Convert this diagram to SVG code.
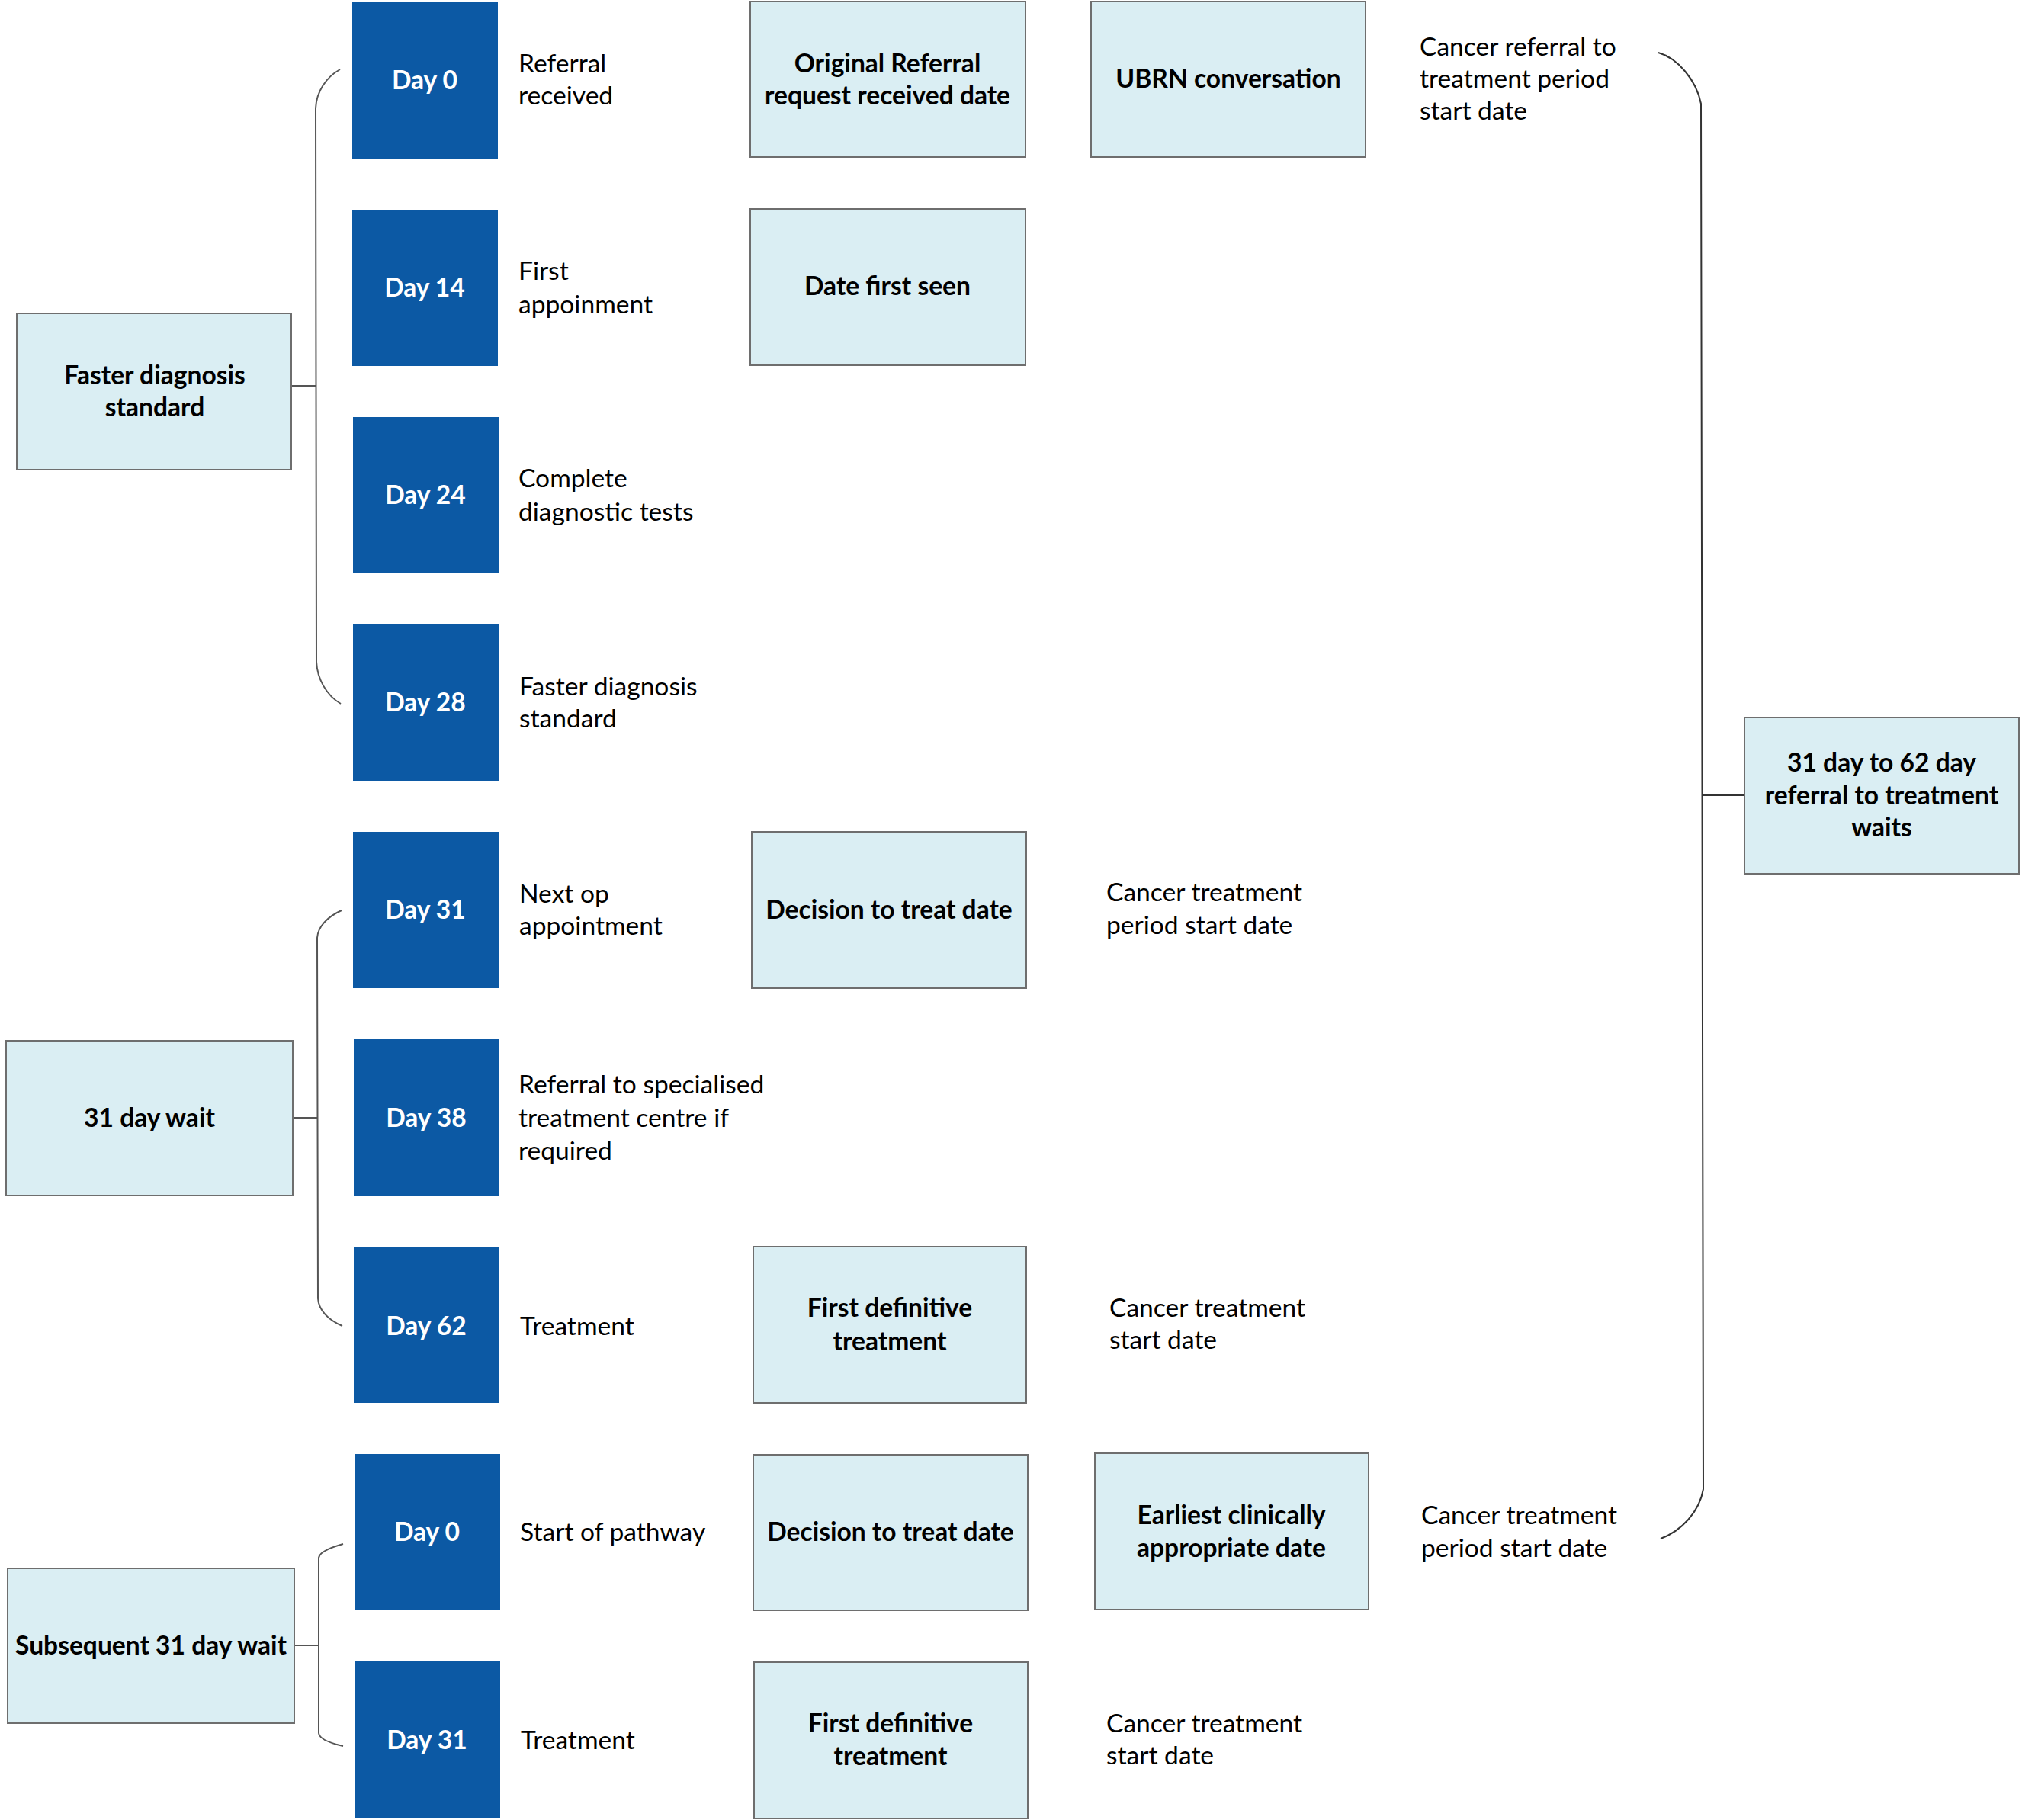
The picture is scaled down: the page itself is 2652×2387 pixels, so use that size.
<svg xmlns="http://www.w3.org/2000/svg" width="2652" height="2387" viewBox="0 0 2652 2387">
<style>
.lb{fill:#DAEEF3;stroke:#6E6E6E;stroke-width:2}
.db{fill:#0C59A4}
.t{font-family:Lato,"Liberation Sans",sans-serif;font-size:33.6px;fill:#000}
.b{font-family:Lato,"Liberation Sans",sans-serif;font-size:33.6px;font-weight:bold;fill:#000;text-anchor:middle}
.w{font-family:Lato,"Liberation Sans",sans-serif;font-size:33.6px;font-weight:bold;fill:#fff;text-anchor:middle}
.c{fill:none;stroke:#555;stroke-width:2}
.r{fill:none;stroke:#333;stroke-width:2}
</style>
<rect width="2652" height="2387" fill="#fff"/>
<g id="connectors">
<path class="c" d="M446 91 C428 101 415 120 414 142 L415 868 C416 890 428 912 447 923"/>
<path class="c" d="M382 506 H414"/>
<path class="c" d="M448 1194 C430 1202 417 1215 416 1230 L417 1703 C418 1718 430 1731 449 1739"/>
<path class="c" d="M384 1466 H416"/>
<path class="c" d="M450 2025 C432 2030 419 2036 418 2043 L418 2273 C419 2281 432 2286 450 2290"/>
<path class="c" d="M386 2158 H418"/>
<path class="r" d="M2175 69 C2200 76 2225 105 2231 136 L2234 1953 C2229 1983 2205 2008 2178 2018"/>
<path class="r" d="M2233 1043 H2288"/>
</g>
<g id="n-fds"><rect class="lb" x="22" y="411" width="360" height="205"/><text class="b" x="203" y="504">Faster diagnosis</text><text class="b" x="203" y="546">standard</text></g>
<g id="n-31wait"><rect class="lb" x="8" y="1365" width="376" height="203"/><text class="b" x="196" y="1478">31 day wait</text></g>
<g id="n-sub31"><rect class="lb" x="10" y="2057" width="376" height="203"/><text class="b" x="198" y="2170">Subsequent 31 day wait</text></g>

<g id="d0"><rect class="db" x="462" y="3" width="191" height="205"/><text class="w" x="557" y="117">Day 0</text></g>
<g id="d14"><rect class="db" x="462" y="275" width="191" height="205"/><text class="w" x="557" y="389">Day 14</text></g>
<g id="d24"><rect class="db" x="463" y="547" width="191" height="205"/><text class="w" x="558" y="661">Day 24</text></g>
<g id="d28"><rect class="db" x="463" y="819" width="191" height="205"/><text class="w" x="558" y="933">Day 28</text></g>
<g id="d31"><rect class="db" x="463" y="1091" width="191" height="205"/><text class="w" x="558" y="1205">Day 31</text></g>
<g id="d38"><rect class="db" x="464" y="1363" width="191" height="205"/><text class="w" x="559" y="1478">Day 38</text></g>
<g id="d62"><rect class="db" x="464" y="1635" width="191" height="205"/><text class="w" x="559" y="1751">Day 62</text></g>
<g id="d0b"><rect class="db" x="465" y="1907" width="191" height="205"/><text class="w" x="560" y="2021">Day 0</text></g>
<g id="d31b"><rect class="db" x="465" y="2179" width="191" height="206"/><text class="w" x="560" y="2294">Day 31</text></g>

<g id="l-ref"><text class="t" x="680" y="95">Referral</text><text class="t" x="680" y="137">received</text></g>
<g id="l-first"><text class="t" x="680" y="367">First</text><text class="t" x="680" y="411">appoinment</text></g>
<g id="l-complete"><text class="t" x="680" y="639">Complete</text><text class="t" x="680" y="683">diagnostic tests</text></g>
<g id="l-fds"><text class="t" x="681" y="912">Faster diagnosis</text><text class="t" x="681" y="954">standard</text></g>
<g id="l-nextop"><text class="t" x="681" y="1184">Next op</text><text class="t" x="681" y="1226">appointment</text></g>
<g id="l-refspec"><text class="t" x="680" y="1434">Referral to specialised</text><text class="t" x="680" y="1478">treatment centre if</text><text class="t" x="680" y="1521">required</text></g>
<g id="l-treat1"><text class="t" x="682" y="1751">Treatment</text></g>
<g id="l-start"><text class="t" x="682" y="2021">Start of pathway</text></g>
<g id="l-treat2"><text class="t" x="683" y="2294">Treatment</text></g>

<g id="n-orig"><rect class="lb" x="984" y="2" width="361" height="204"/><text class="b" x="1164" y="95">Original Referral</text><text class="b" x="1164" y="137">request received date</text></g>
<g id="n-ubrn"><rect class="lb" x="1431" y="2" width="360" height="204"/><text class="b" x="1611" y="115">UBRN conversation</text></g>
<g id="n-dfs"><rect class="lb" x="984" y="274" width="361" height="205"/><text class="b" x="1164" y="387">Date first seen</text></g>
<g id="n-dtt1"><rect class="lb" x="986" y="1091" width="360" height="205"/><text class="b" x="1166" y="1205">Decision to treat date</text></g>
<g id="n-fdt1"><rect class="lb" x="988" y="1635" width="358" height="205"/><text class="b" x="1167" y="1727">First definitive</text><text class="b" x="1167" y="1771">treatment</text></g>
<g id="n-dtt2"><rect class="lb" x="988" y="1908" width="360" height="204"/><text class="b" x="1168" y="2021">Decision to treat date</text></g>
<g id="n-eca"><rect class="lb" x="1436" y="1906" width="359" height="205"/><text class="b" x="1615" y="1999">Earliest clinically</text><text class="b" x="1615" y="2042">appropriate date</text></g>
<g id="n-fdt2"><rect class="lb" x="989" y="2180" width="359" height="205"/><text class="b" x="1168" y="2272">First definitive</text><text class="b" x="1168" y="2315">treatment</text></g>
<g id="n-3162"><rect class="lb" x="2288" y="941" width="360" height="205"/><text class="b" x="2468" y="1012">31 day to 62 day</text><text class="b" x="2468" y="1055">referral to treatment</text><text class="b" x="2468" y="1097">waits</text></g>

<g id="l-crt"><text class="t" x="1862" y="73">Cancer referral to</text><text class="t" x="1862" y="115">treatment period</text><text class="t" x="1862" y="157">start date</text></g>
<g id="l-ctp1"><text class="t" x="1451" y="1182">Cancer treatment</text><text class="t" x="1451" y="1225">period start date</text></g>
<g id="l-cts1"><text class="t" x="1455" y="1727">Cancer treatment</text><text class="t" x="1455" y="1769">start date</text></g>
<g id="l-ctp2"><text class="t" x="1864" y="1999">Cancer treatment</text><text class="t" x="1864" y="2042">period start date</text></g>
<g id="l-cts2"><text class="t" x="1451" y="2272">Cancer treatment</text><text class="t" x="1451" y="2314">start date</text></g>
</svg>
